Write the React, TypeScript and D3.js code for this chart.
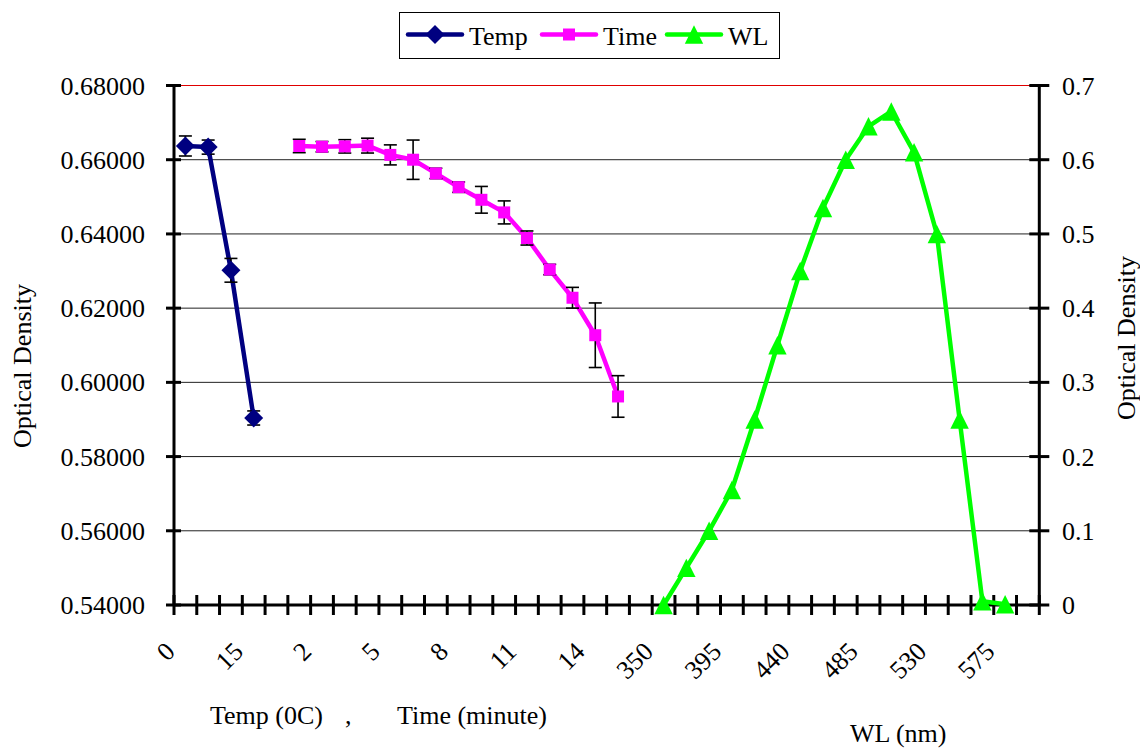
import React from "react";
import * as d3 from "d3";

// ---- data ----
const tempCats = ["0", "5", "10", "15"];
const timeCats = ["1", "2", "3", "4", "5", "6", "7", "8", "9", "10", "11", "12", "13", "14", "15"];
const wlCats = ["350", "365", "380", "395", "410", "425", "440", "455", "470", "485", "500", "515", "530", "545", "560", "575"];

const tempValues = [0.6637, 0.6634, 0.6302, 0.5904];
const tempErrors = [0.0027, 0.0019, 0.0032, 0.0019];

const timeValues = [0.6637, 0.6635, 0.6636, 0.6638, 0.6613, 0.66, 0.6563, 0.6526, 0.6492, 0.6458, 0.6389, 0.6304, 0.6228, 0.6127, 0.5962];
const timeErrors = [0.0018, 0.0014, 0.0018, 0.002, 0.0027, 0.0053, 0.0014, 0.0014, 0.0036, 0.0031, 0.0019, 0.0014, 0.0028, 0.0087, 0.0056];

const wlValues = [0.0, 0.05, 0.1, 0.155, 0.25, 0.35, 0.45, 0.535, 0.6, 0.645, 0.665, 0.61, 0.5, 0.25, 0.005, 0.001];

const leftTicks = [0.54, 0.56, 0.58, 0.6, 0.62, 0.64, 0.66, 0.68];
const rightTicks = [0, 0.1, 0.2, 0.3, 0.4, 0.5, 0.6, 0.7];

const seriesNames = ["Temp", "Time", "WL"];
const seriesColors = ["#000080", "#FF00FF", "#00FF00"];

const FONT = "'Liberation Serif', 'Times New Roman', serif";

export default function App() {
  const W = 1140;
  const H = 748;
  const left = 174;
  const right = 1039.3;
  const top = 85.5;
  const bottom = 605;

  const categories = [...tempCats, "", ...timeCats, "", ...wlCats, ""];
  const tempStart = 0;
  const timeStart = tempCats.length + 1;
  const wlStart = timeStart + timeCats.length + 1;

  const x = d3
    .scaleBand<number>()
    .domain(categories.map((_, i) => i))
    .range([left, right])
    .paddingInner(0)
    .paddingOuter(0);
  const bw = x.bandwidth();
  const cx = (i: number) => (x(i) as number) + bw / 2;

  const yL = d3.scaleLinear().domain([0.54, 0.68]).range([bottom, top]);
  const yR = d3.scaleLinear().domain([0, 0.7]).range([bottom, top]);

  const tempPts = tempValues.map((v, i) => ({ x: cx(tempStart + i), y: yL(v), e: tempErrors[i], v }));
  const timePts = timeValues.map((v, i) => ({ x: cx(timeStart + i), y: yL(v), e: timeErrors[i], v }));
  const wlPts = wlValues.map((v, i) => ({ x: cx(wlStart + i), y: yR(v) }));

  const line = d3
    .line<{ x: number; y: number }>()
    .x((d) => d.x)
    .y((d) => d.y);

  const diamond = (s: number) => `M0,${-s}L${s},0L0,${s}L${-s},0Z`;
  const square = (s: number) => `M${-s},${-s}H${s}V${s}H${-s}Z`;
  const triangle = (s: number) => `M0,${-s}L${s},${s}L${-s},${s}Z`;
  const markerPaths = [diamond(9.5), square(6), triangle(9.2)];

  const boundaries = d3.range(categories.length + 1).map((i) => left + i * bw);

  const errBar = (p: { x: number; v: number; e: number }, k: string) => {
    const y1 = yL(p.v + p.e);
    const y2 = yL(p.v - p.e);
    return (
      <g key={k} stroke="#000" strokeWidth={1.6}>
        <line x1={p.x} x2={p.x} y1={y1} y2={y2} />
        <line x1={p.x - 6.5} x2={p.x + 6.5} y1={y1} y2={y1} />
        <line x1={p.x - 6.5} x2={p.x + 6.5} y1={y2} y2={y2} />
      </g>
    );
  };

  const legendItems = [
    { lx: 408, tx: 469 },
    { lx: 542, tx: 603 },
    { lx: 667, tx: 728 },
  ];

  return (
    <svg
      width={W}
      height={H}
      style={{ position: "absolute", left: 0, top: 0, background: "#fff" }}
      fontFamily={FONT}
    >
      <rect x={0} y={0} width={W} height={H} fill="#fff" />

      {/* gridlines */}
      {leftTicks.map((t, i) =>
        t === 0.54 ? null : (
          <line
            key={"g" + i}
            x1={left}
            x2={right}
            y1={yL(t)}
            y2={yL(t)}
            stroke={t === 0.68 ? "#e00000" : "#222"}
            strokeWidth={1}
          />
        )
      )}

      {/* left axis */}
      <line x1={left} x2={left} y1={top} y2={bottom} stroke="#000" strokeWidth={3} />
      {leftTicks.map((t, i) => (
        <g key={"lt" + i}>
          <line x1={left - 8} x2={left + 7} y1={yL(t)} y2={yL(t)} stroke="#000" strokeWidth={3} />
          <text x={145} y={yL(t) + 9} fontSize={26} textAnchor="end" fill="#000">
            {d3.format(".5f")(t)}
          </text>
        </g>
      ))}

      {/* right axis */}
      <line x1={right} x2={right} y1={top} y2={bottom} stroke="#000" strokeWidth={3} />
      {rightTicks.map((t, i) => (
        <g key={"rt" + i}>
          <line x1={right - 10} x2={right + 10} y1={yR(t)} y2={yR(t)} stroke="#000" strokeWidth={3} />
          <text x={1062} y={yR(t) + 9} fontSize={26} textAnchor="start" fill="#000">
            {t === 0 ? "0" : d3.format(".1f")(t)}
          </text>
        </g>
      ))}

      {/* bottom axis */}
      <line x1={left} x2={right} y1={bottom} y2={bottom} stroke="#000" strokeWidth={3} />
      {boundaries.map((bx, i) => (
        <line key={"bt" + i} x1={bx} x2={bx} y1={bottom - 10} y2={bottom + 10} stroke="#000" strokeWidth={3} />
      ))}
      {categories.map((c, i) =>
        i % 3 === 0 && c !== "" ? (
          <text
            key={"bl" + i}
            transform={`translate(${cx(i) - 9},${653}) rotate(-45)`}
            fontSize={26}
            textAnchor="end"
            fill="#000"
          >
            {c}
          </text>
        ) : null
      )}

      {/* error bars for temp & time */}
      {/* lines */}
      <path d={line(tempPts) || ""} fill="none" stroke={seriesColors[0]} strokeWidth={4.5} strokeLinejoin="round" />
      <path d={line(timePts) || ""} fill="none" stroke={seriesColors[1]} strokeWidth={4.5} strokeLinejoin="round" />
      <path d={line(wlPts) || ""} fill="none" stroke={seriesColors[2]} strokeWidth={4.5} strokeLinejoin="round" />

      {tempPts.map((p, i) => errBar(p, "te" + i))}
      {timePts.map((p, i) => errBar(p, "ti" + i))}

      {/* markers */}
      {tempPts.map((p, i) => (
        <path key={"tm" + i} d={markerPaths[0]} transform={`translate(${p.x},${p.y})`} fill={seriesColors[0]} />
      ))}
      {timePts.map((p, i) => (
        <path key={"tim" + i} d={markerPaths[1]} transform={`translate(${p.x},${p.y})`} fill={seriesColors[1]} />
      ))}
      {wlPts.map((p, i) => (
        <path key={"wm" + i} d={markerPaths[2]} transform={`translate(${p.x},${p.y})`} fill={seriesColors[2]} />
      ))}

      {/* axis titles */}
      <text transform="translate(31,366) rotate(-90)" fontSize={26} textAnchor="middle" fill="#000">
        Optical Density
      </text>
      <text transform="translate(1135,338) rotate(-90)" fontSize={26} textAnchor="middle" fill="#000">
        Optical Density
      </text>
      <text x={210} y={724} fontSize={26} fill="#000">
        Temp (0C)
      </text>
      <text x={345} y={724} fontSize={26} fill="#000">
        ,
      </text>
      <text x={397} y={724} fontSize={26} fill="#000">
        Time (minute)
      </text>
      <text x={850} y={742} fontSize={26} fill="#000">
        WL (nm)
      </text>

      {/* legend */}
      <rect x={399.5} y={12.5} width={380} height={46} fill="#fff" stroke="#000" strokeWidth={1} />
      {legendItems.map((it, i) => (
        <g key={"lg" + i}>
          <line x1={it.lx} x2={it.lx + 54} y1={34.5} y2={34.5} stroke={seriesColors[i]} strokeWidth={4.5} strokeLinecap="round" />
          <path d={markerPaths[i]} transform={`translate(${it.lx + 27},34.5)`} fill={seriesColors[i]} />
          <text x={it.tx} y={45} fontSize={26} fill="#000">
            {seriesNames[i]}
          </text>
        </g>
      ))}
    </svg>
  );
}
